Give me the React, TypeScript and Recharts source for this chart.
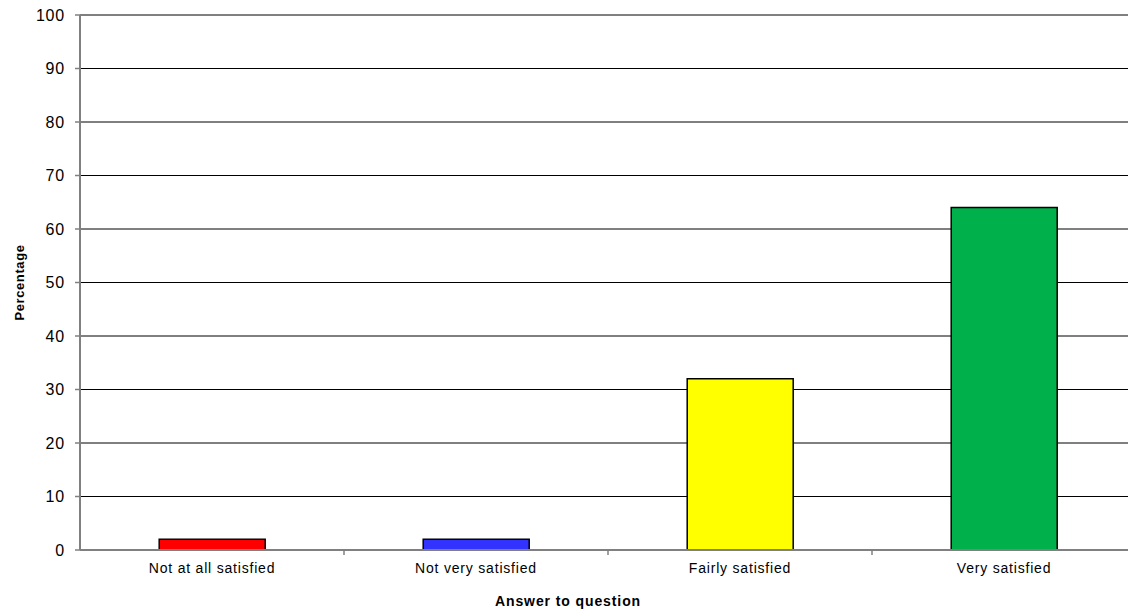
import { BarChart, Bar, XAxis, YAxis, CartesianGrid, Cell } from "recharts";

const categories = [
  "Not at all satisfied",
  "Not very satisfied",
  "Fairly satisfied",
  "Very satisfied",
];
const percentages = [2, 2, 32, 64];
const barColors = ["#FF0000", "#3333FF", "#FFFF00", "#00B04A"];
const yTicks = [0, 10, 20, 30, 40, 50, 60, 70, 80, 90, 100];

const data = categories.map((name, i) => ({ name, value: percentages[i] }));

const CHART_W = 1136;
const CHART_H = 614;
const AXIS_W = 80;
const HALF_BAND = (CHART_W - AXIS_W) / categories.length / 2;
const FONT = "'Liberation Sans', Arial, sans-serif";

function CategoryTick(props: any) {
  const { x, y, payload, index } = props;
  return (
    <g>
      {index > 0 && (
        <line
          x1={x - HALF_BAND}
          x2={x - HALF_BAND}
          y1={y}
          y2={y + 5}
          stroke="#808080"
          strokeWidth={1.5}
        />
      )}
      <text
        x={x}
        y={y + 23}
        textAnchor="middle"
        fontSize={14}
        fontFamily={FONT}
        letterSpacing={0.8}
        fill="#000"
      >
        {payload.value}
      </text>
    </g>
  );
}

export default function App() {
  return (
    <div
      style={{
        position: "fixed",
        left: 0,
        top: 0,
        width: 1128,
        height: 614,
        overflow: "hidden",
        background: "#fff",
      }}
    >
      <BarChart
        width={CHART_W}
        height={CHART_H}
        data={data}
        margin={{ top: 15, right: 0, bottom: 0, left: 0 }}
        barCategoryGap="30%"
      >
        <CartesianGrid vertical={false} stroke="#000" strokeWidth={1} />
        <XAxis
          dataKey="name"
          height={64}
          axisLine={{ stroke: "#808080", strokeWidth: 2 }}
          tickLine={false}
          tickSize={0}
          tickMargin={0}
          interval={0}
          tick={<CategoryTick />}
          label={{
            value: "Answer to question",
            position: "insideBottom",
            offset: 8,
            dx: -40,
            style: {
              fontFamily: FONT,
              fontWeight: "bold",
              fontSize: 14,
              letterSpacing: 0.9,
              fill: "#000",
            },
          }}
        />
        <YAxis
          width={AXIS_W}
          domain={[0, 100]}
          ticks={yTicks}
          interval={0}
          axisLine={{ stroke: "#808080", strokeWidth: 2 }}
          tickLine={{ stroke: "#808080", strokeWidth: 1.5 }}
          tickSize={5}
          tickMargin={10}
          tick={{
            fontSize: 16,
            fontFamily: FONT,
            fill: "#000",
            letterSpacing: 0.8,
          }}
          label={{
            value: "Percentage",
            angle: -90,
            position: "insideLeft",
            offset: 19,
            style: {
              textAnchor: "middle",
              fontFamily: FONT,
              fontWeight: "bold",
              fontSize: 13,
              letterSpacing: 0.6,
              fill: "#000",
            },
          }}
        />
        <Bar
          dataKey="value"
          stroke="#000"
          strokeWidth={1.5}
          isAnimationActive={false}
        >
          {data.map((d, i) => (
            <Cell key={d.name} fill={barColors[i]} />
          ))}
        </Bar>
      </BarChart>
    </div>
  );
}
